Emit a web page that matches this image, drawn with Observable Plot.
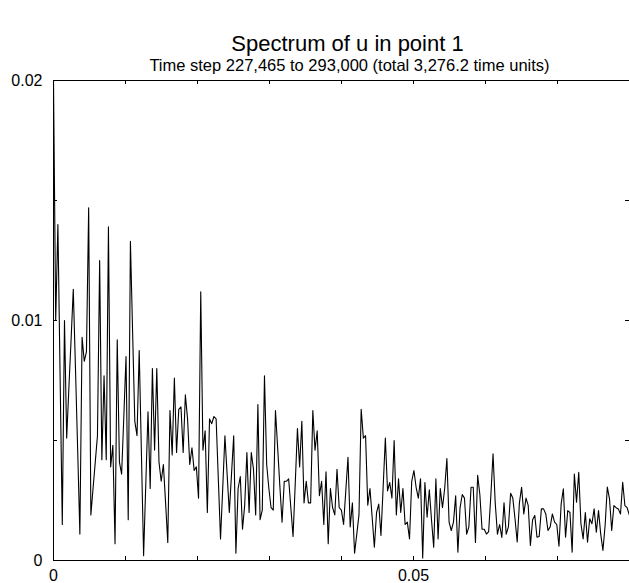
<!DOCTYPE html>
<html><head><meta charset="utf-8">
<script src="https://cdn.jsdelivr.net/npm/d3@7"></script>
<script src="https://cdn.jsdelivr.net/npm/@observablehq/plot@0.6"></script>
<style>html,body{margin:0;padding:0;background:#fff;overflow:hidden}</style>
</head><body><div id="chart"></div>
<script>
const title = "Spectrum of u in point 1";
const subtitle = "Time step 227,465 to 293,000 (total 3,276.2 time units)";
const totalTime = 3276.2; // frequency resolution = 1 / total time
// spectrum amplitude per frequency bin, in units of 1e-3
const amplitude = [
 20.0,10.0,14.0,7.7,1.5,10.0,5.1,7.2,9.2,11.3,
 8.0,4.6,1.1,9.3,8.3,8.7,14.7,1.9,3.0,4.1,
 5.2,12.5,4.2,7.7,4.2,13.9,3.9,4.8,0.7,9.2,
 4.1,3.6,6.0,8.5,1.7,13.3,9.5,5.8,5.2,8.75,
 4.5,0.2,3.2,6.2,3.0,8.0,4.6,8.0,4.1,3.3,
 4.0,2.4,0.75,6.25,4.4,7.6,4.5,6.3,6.4,4.5,
 6.9,5.9,4.0,4.7,3.75,3.9,2.6,11.2,4.6,5.4,
 2.0,5.9,5.7,6.0,5.9,3.4,0.9,3.0,5.2,3.6,
 2.0,3.6,5.2,0.3,3.0,3.5,1.3,2.3,4.5,2.0,
 4.5,3.8,1.9,6.5,1.7,2.1,7.7,4.0,3.0,2.2,
 2.1,6.25,4.7,3.1,1.6,3.3,3.3,3.4,2.2,1.0,
 3.2,5.5,3.9,5.8,2.4,3.3,2.4,2.4,6.25,4.6,
 5.4,2.7,3.3,1.5,3.7,0.7,3.0,2.2,1.9,3.8,
 2.2,2.1,1.5,2.9,4.3,1.4,2.4,0.3,1.1,1.9,
 6.3,5.1,5.2,2.3,3.0,1.8,0.55,2.0,2.35,1.04,
 3.05,5.1,2.9,3.25,2.6,5.0,1.9,3.4,2.0,3.0,
 1.5,1.6,0.9,3.3,3.75,3.05,2.6,3.4,0.1,3.25,
 1.8,2.95,1.7,0.55,3.4,0.9,3.0,2.2,3.0,4.25,
 1.6,1.25,1.6,2.7,0.35,2.2,2.75,2.6,1.1,1.4,
 3.05,3.05,0.75,3.55,2.75,1.3,1.3,1.1,1.2,2.7,
 4.45,2.4,1.1,1.5,0.96,2.4,1.1,1.4,2.8,2.6,
 1.74,0.77,2.4,3.05,1.94,2.6,2.3,0.63,1.7,1.88,
 0.97,1.0,2.15,2.15,1.94,1.25,1.4,1.94,1.6,1.5,
 0.6,2.36,2.99,0.97,2.08,2.0,0.35,3.6,2.43,3.68,
 1.53,0.9,2.0,0.76,1.74,1.53,2.15,1.18,2.08,1.1,
 0.42,1.46,3.06,2.57,1.25,2.29,2.2,2.15,1.94,3.26,
 2.29,2.2,1.9
];
const xDomain = [0, 0.08];
const yDomain = [0, 0.02];
const xTicks = [0, 0.01, 0.02, 0.03, 0.04, 0.05, 0.06, 0.07, 0.08];
const xLabels = [0, 0.05];
const yTicks = [0, 0.005, 0.01, 0.015, 0.02];
const yLabels = [0, 0.01, 0.02];

const data = amplitude.map((v, i) => ({f: i / totalTime, a: v / 1000}));

const W = 629, H = 583, mL = 53, mR = 0, mT = 80, mB = 23;
const fw = W - mL - mR, fh = H - mT - mB, tick = 4;

const chart = Plot.plot({
  width: W, height: H,
  marginLeft: mL, marginRight: mR, marginTop: mT, marginBottom: mB,
  style: {fontFamily: "'Liberation Sans', Arial, Helvetica, sans-serif", fontSize: "16px", background: "#fff", color: "#000"},
  x: {domain: xDomain},
  y: {domain: yDomain},
  marks: [
    Plot.lineY(data, {x: "f", y: "a", stroke: "#000", strokeWidth: 1.1}),
    Plot.ruleY(yDomain, {stroke: "#000"}),
    Plot.ruleX([xDomain[0]], {stroke: "#000"}),
    Plot.ruleX(xTicks, {stroke: "#000", insetTop: fh - tick}),
    Plot.ruleX(xTicks, {stroke: "#000", insetBottom: fh - tick}),
    Plot.ruleY(yTicks, {stroke: "#000", insetRight: fw - tick}),
    Plot.ruleY(yTicks, {stroke: "#000", insetLeft: fw - tick}),
    Plot.axisX({ticks: xLabels, tickSize: 0, tickPadding: 9, tickFormat: d => String(d), label: null, fontSize: 16}),
    Plot.axisY({ticks: yLabels, tickSize: 0, tickPadding: 11, tickFormat: d => String(d), label: null, fontSize: 16}),
    Plot.text([title], {frameAnchor: "top", dy: -45, dx: 6, fontSize: 22, fill: "#000"}),
    Plot.text([subtitle], {frameAnchor: "top", dy: -21, dx: 8, fontSize: 16.5, fill: "#000"})
  ]
});
document.getElementById("chart").appendChild(chart);
</script>
</body></html>
